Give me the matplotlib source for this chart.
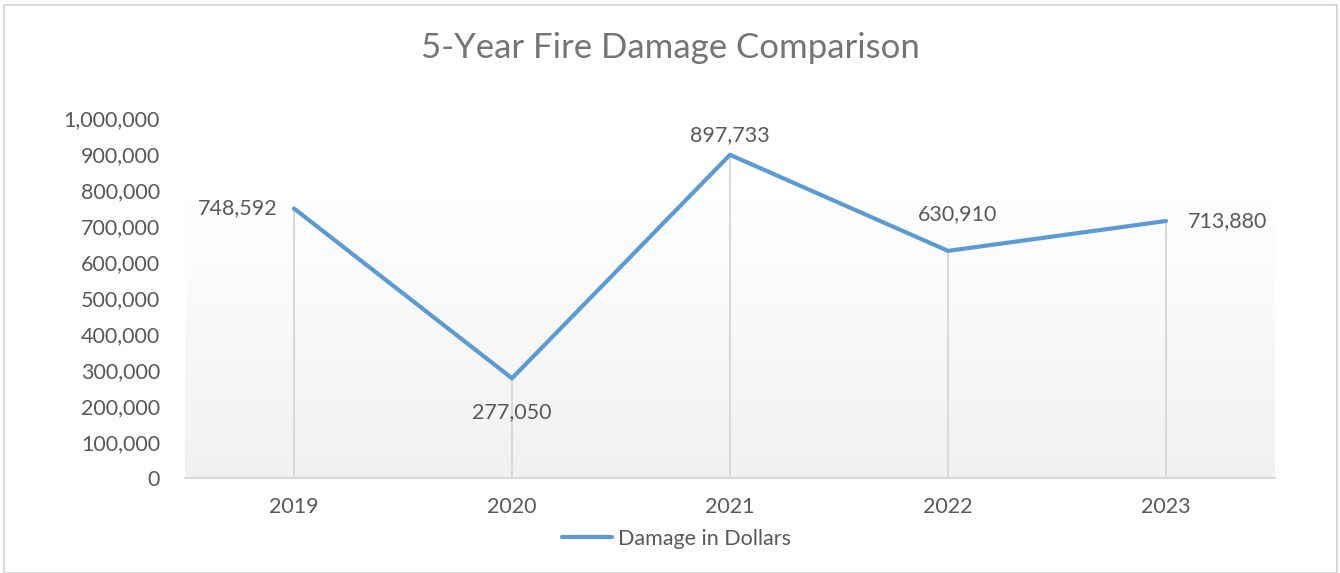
import matplotlib.pyplot as plt
import numpy as np
from matplotlib.ticker import FuncFormatter
from matplotlib.patches import Rectangle
from matplotlib.colors import LinearSegmentedColormap

plt.rcParams['font.family'] = ['Lato', 'DejaVu Sans']

years = ['2019', '2020', '2021', '2022', '2023']
damage = [748592, 277050, 897733, 630910, 713880]
series_name = 'Damage in Dollars'

line_color = '#5b9bd5'
text_color = '#595959'

fig = plt.figure(figsize=(13.4, 5.73), dpi=100)
ax = fig.add_axes([185 / 1340, 95 / 573, 1090 / 1340, 360 / 573])

x = np.arange(len(years))

# gradient fill of the plot area (light gray at the bottom, white at the top)
grad = np.linspace(0.0, 1.0, 256).reshape(-1, 1)
cmap = LinearSegmentedColormap.from_list('g', ['#f1f1f1', '#ffffff'])
ax.imshow(grad, cmap=cmap, aspect='auto',
          extent=[-0.5, len(years) - 0.5, 0, 772000], origin='lower', zorder=0)

# drop lines
ax.vlines(x, 0, damage, color='#d9d9d9', lw=1.5, zorder=1)

ax.plot(x, damage, color=line_color, lw=3, label=series_name,
        solid_capstyle='round', solid_joinstyle='round', zorder=3)

# data labels
offsets = [(-12, 0, 'right', 'center'), (0, -17, 'center', 'top'),
           (0, 7, 'center', 'bottom'), (7, 19, 'center', 'bottom'),
           (16, 0, 'left', 'center')]
for xi, v, (dx, dy, ha, va) in zip(x, damage, offsets):
    ax.annotate(f'{v:,}', (xi, v), xytext=(dx, dy), textcoords='offset points',
                ha=ha, va=va, fontsize=15.5, color=text_color)

ax.set_xlim(-0.5, len(years) - 0.5)
ax.set_ylim(0, 1000000)
ax.set_yticks(np.arange(0, 1000001, 100000))
ax.yaxis.set_major_formatter(FuncFormatter(lambda v, p: f'{int(v):,}'))
ax.set_xticks(x, years)
ax.tick_params(length=0, labelsize=15.5, labelcolor=text_color)
ax.tick_params(axis='x', pad=14)
ax.tick_params(axis='y', pad=18)

for s in ['top', 'right', 'left']:
    ax.spines[s].set_visible(False)
ax.spines['bottom'].set_color('#d9d9d9')
ax.spines['bottom'].set_linewidth(1.5)
ax.set_facecolor('none')

fig.suptitle('5-Year Fire Damage Comparison', y=0.945, fontsize=25,
             color='#757575')

leg = fig.legend(loc='center', bbox_to_anchor=(0.505, 0.06), frameon=False,
                 fontsize=15.5, handlelength=2.3, handletextpad=0.3)
for t in leg.get_texts():
    t.set_color(text_color)

fig.patches.append(Rectangle((4 / 1340, 0), 1333 / 1340, 568 / 573,
                             transform=fig.transFigure, fill=False,
                             edgecolor='#d9d9d9', lw=1.5))

fig.savefig('out.png', dpi=100)
